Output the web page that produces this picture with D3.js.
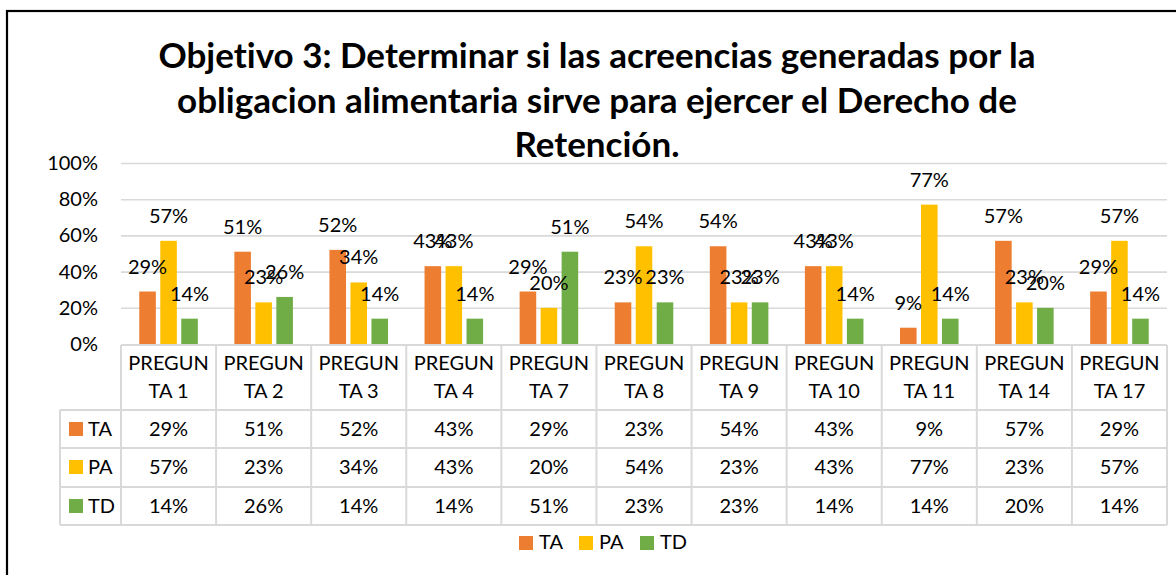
<!DOCTYPE html>
<html>
<head>
<meta charset="utf-8">
<script src="https://cdn.jsdelivr.net/npm/d3@7"></script>
<style>
  body { margin: 0; background: #fff; }
  svg text { font-family: Lato, "Open Sans", sans-serif; fill: #000; font-variant-ligatures: none; }
</style>
</head>
<body>
<div id="chart"></div>
<script>
// data
const categories = ["PREGUNTA 1", "PREGUNTA 2", "PREGUNTA 3", "PREGUNTA 4", "PREGUNTA 7",
  "PREGUNTA 8", "PREGUNTA 9", "PREGUNTA 10", "PREGUNTA 11", "PREGUNTA 14", "PREGUNTA 17"];
const seriesNames = ["TA", "PA", "TD"];
const ta = [0.29, 0.51, 0.52, 0.43, 0.29, 0.23, 0.54, 0.43, 0.09, 0.57, 0.29];
const pa = [0.57, 0.23, 0.34, 0.43, 0.20, 0.54, 0.23, 0.43, 0.77, 0.23, 0.57];
const td = [0.14, 0.26, 0.14, 0.14, 0.51, 0.23, 0.23, 0.14, 0.14, 0.20, 0.14];
const yTicks = [0, 0.2, 0.4, 0.6, 0.8, 1];
const titleLines = [
  "Objetivo 3: Determinar si las acreencias generadas por la",
  "obligacion alimentaria sirve para ejercer el Derecho de",
  "Retención."
];

const seriesValues = { TA: ta, PA: pa, TD: td };
const colors = { TA: "#ED7D31", PA: "#FFC000", TD: "#70AD47" };

const width = 1176, height = 575;
const plotLeft = 121, plotRight = 1167, plotTop = 163, plotBottom = 344;
const gridColor = "#d9d9d9";
const pct = d3.format(".0%");

const svg = d3.select("#chart")
  .append("svg")
    .attr("width", width)
    .attr("height", height);

// outer frame
svg.append("rect")
  .attr("x", 7)
  .attr("y", 11)
  .attr("width", 1300)
  .attr("height", 700)
  .attr("fill", "none")
  .attr("stroke", "#000")
  .attr("stroke-width", 2.2);

// title
svg.append("g")
  .selectAll("text")
  .data(titleLines)
  .enter()
  .append("text")
    .attr("x", 597)
    .attr("y", (d, i) => 68 + i * 44.5)
    .attr("text-anchor", "middle")
    .style("font-size", "35px")
    .style("font-weight", "bold")
    .text(d => d);

const x0 = d3.scaleBand()
  .domain(categories)
  .range([plotLeft, plotRight]);
const x1 = d3.scaleBand()
  .domain(seriesNames)
  .range([0, x0.bandwidth()])
  .paddingInner(0.21)
  .paddingOuter(0.87);
const y = d3.scaleLinear()
  .domain([0, 1])
  .range([plotBottom, plotTop]);

// gridlines
svg.append("g")
  .attr("transform", `translate(${plotLeft},0)`)
  .call(d3.axisLeft(y).tickValues(yTicks.slice(1)).tickSize(-(plotRight - plotLeft)).tickFormat(""))
  .call(g => g.select(".domain").remove())
  .call(g => g.selectAll("line").attr("stroke", gridColor).attr("stroke-width", 1.6));

// y axis labels
svg.append("g")
  .attr("transform", `translate(${plotLeft},0)`)
  .call(d3.axisLeft(y).tickValues(yTicks).tickSize(0).tickPadding(23).tickFormat(pct))
  .call(g => g.select(".domain").remove())
  .call(g => g.selectAll("text").style("font-size", "20px").style("font-family", "Lato, sans-serif"));

// bars
const groups = svg.append("g")
  .selectAll("g")
  .data(categories)
  .enter()
  .append("g")
    .attr("transform", d => `translate(${x0(d)},0)`);

const rows = (c, i) => seriesNames.map(s => ({ s, v: seriesValues[s][i] }));

groups.selectAll("rect")
  .data(rows)
  .enter()
  .append("rect")
    .attr("x", d => x1(d.s))
    .attr("y", d => y(d.v))
    .attr("width", x1.bandwidth())
    .attr("height", d => y(0) - y(d.v))
    .attr("fill", d => colors[d.s]);

groups.selectAll("text")
  .data(rows)
  .enter()
  .append("text")
    .attr("x", d => x1(d.s) + x1.bandwidth() / 2)
    .attr("y", d => y(d.v) - 18)
    .attr("text-anchor", "middle")
    .style("font-size", "20px")
    .text(d => pct(d.v));

// data table
const table = svg.append("g");
const rowTops = [345, 410, 448, 487, 525];
const tableLeft = 60;

table.selectAll("line.h")
  .data(rowTops)
  .enter()
  .append("line")
    .attr("x1", (d, i) => i === 0 ? plotLeft : tableLeft)
    .attr("x2", plotRight)
    .attr("y1", d => d)
    .attr("y2", d => d)
    .attr("stroke", gridColor)
    .attr("stroke-width", 2);

const colEdges = categories.map(c => x0(c)).concat([plotRight]);
table.selectAll("line.v")
  .data(colEdges)
  .enter()
  .append("line")
    .attr("x1", d => d)
    .attr("x2", d => d)
    .attr("y1", rowTops[0])
    .attr("y2", rowTops[4])
    .attr("stroke", gridColor)
    .attr("stroke-width", 2);

table.append("line")
  .attr("x1", tableLeft).attr("x2", tableLeft)
  .attr("y1", rowTops[1]).attr("y2", rowTops[4])
  .attr("stroke", gridColor)
  .attr("stroke-width", 2);

// header cells (wrapped like excel)
const header = table.selectAll("text.head")
  .data(categories)
  .enter()
  .append("text")
    .attr("text-anchor", "middle")
    .style("font-size", "20px");
header.append("tspan")
  .attr("x", d => x0(d) + x0.bandwidth() / 2)
  .attr("y", 370)
  .text(d => d.slice(0, 6));
header.append("tspan")
  .attr("x", d => x0(d) + x0.bandwidth() / 2)
  .attr("y", 398)
  .text(d => d.slice(6));

// value rows
seriesNames.forEach((s, r) => {
  const base = [436, 474, 513][r];
  table.append("rect")
    .attr("x", 69)
    .attr("y", base - 14)
    .attr("width", 14)
    .attr("height", 14)
    .attr("fill", colors[s]);
  table.append("text")
    .attr("x", 88)
    .attr("y", base)
    .style("font-size", "20px")
    .text(s);
  table.selectAll(null)
    .data(seriesValues[s])
    .enter()
    .append("text")
      .attr("x", (d, i) => x0(categories[i]) + x0.bandwidth() / 2)
      .attr("y", base)
      .attr("text-anchor", "middle")
      .style("font-size", "20px")
      .text(d => pct(d));
});

// legend
const legendX = [519, 579, 640];
const legend = svg.append("g")
  .selectAll("g")
  .data(seriesNames)
  .enter()
  .append("g")
    .attr("transform", (d, i) => `translate(${legendX[i]},536)`);
legend.append("rect")
  .attr("width", 14)
  .attr("height", 14)
  .attr("fill", d => colors[d]);
legend.append("text")
  .attr("x", 20)
  .attr("y", 13)
  .style("font-size", "20px")
  .text(d => d);
</script>
</body>
</html>
